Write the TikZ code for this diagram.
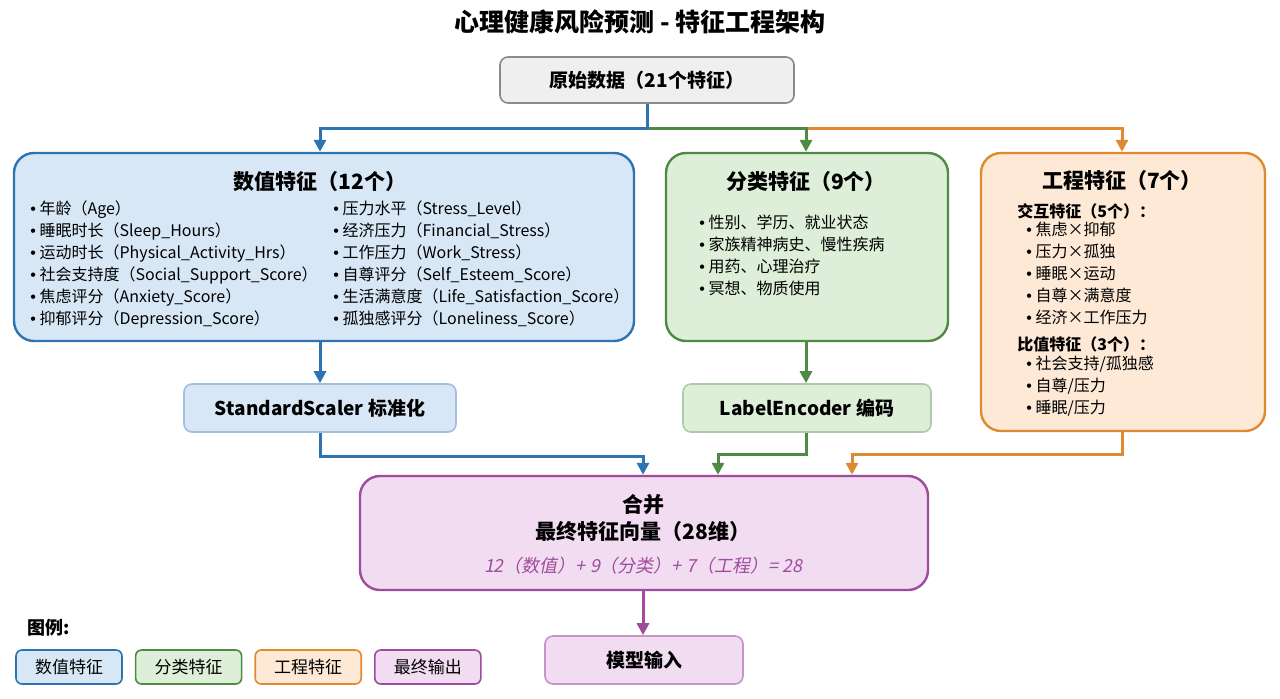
\documentclass[tikz,border=0pt]{standalone}
\usepackage{fontspec}
\setmainfont{Noto Sans CJK SC}
\newfontfamily\slfont{Noto Sans CJK SC}[FakeSlant=0.2]
\newfontfamily\blfont{Liberation Sans}
\newcommand{\bl}{{\blfont\textbullet}\ }
\usetikzlibrary{arrows.meta,positioning}
\definecolor{numfill}{HTML}{D7E7F6}
\definecolor{numline}{HTML}{2E74B0}
\definecolor{catfill}{HTML}{DDEFD8}
\definecolor{catline}{HTML}{4E8A43}
\definecolor{engfill}{HTML}{FDE9D5}
\definecolor{engline}{HTML}{DF8A30}
\definecolor{outfill}{HTML}{F1DCF1}
\definecolor{outline}{HTML}{A04C9E}
\definecolor{rawfill}{HTML}{EFEFEF}
\definecolor{rawline}{HTML}{8A8A8A}
\tikzset{
  box/.style={draw,line width=1.2pt,rounded corners=10pt},
  small/.style={draw,line width=0.8pt,rounded corners=4pt,font=\fontsize{9.5}{11}\selectfont\bfseries},
  leg/.style={draw,line width=0.8pt,rounded corners=3pt,minimum width=53pt,minimum height=17pt,font=\fontsize{8.5}{10}\selectfont},
  list/.style={align=left,anchor=north west,inner sep=0pt,font=\fontsize{8}{11}\selectfont},
  head/.style={font=\fontsize{10.5}{12}\selectfont\bfseries},
  flow/.style={line width=1.5pt,-{Triangle[length=6pt,width=6pt]}}
}
\begin{document}
\begin{tikzpicture}[x=0.5pt,y=-0.5pt]
\useasboundingbox (0,0) rectangle (1280,698);
\node[font=\fontsize{12.5}{14}\selectfont\bfseries] (title) at (640,22) {心理健康风险预测 - 特征工程架构};
\node[small,fill=rawfill,draw=rawline,minimum width=147pt,minimum height=23pt] (raw) at (647,80) {原始数据（21个特征）};

\node[box,fill=numfill,draw=numline,minimum width=310pt,minimum height=94pt] (num) at (324,247) {};
\node[box,fill=catfill,draw=catline,minimum width=141pt,minimum height=94pt] (cat) at (807,247) {};
\node[box,fill=engfill,draw=engline,minimum width=142pt,minimum height=139pt] (eng) at (1123,292) {};

\node[head] (numt) at (320,182) {数值特征（12个）};
\node[list] (numl) at (30,200) {\bl 年龄（Age）\\\bl 睡眠时长（Sleep\_Hours）\\\bl 运动时长（Physical\_Activity\_Hrs）\\\bl 社会支持度（Social\_Support\_Score）\\\bl 焦虑评分（Anxiety\_Score）\\\bl 抑郁评分（Depression\_Score）};
\node[list] (numr) at (333,200) {\bl 压力水平（Stress\_Level）\\\bl 经济压力（Financial\_Stress）\\\bl 工作压力（Work\_Stress）\\\bl 自尊评分（Self\_Esteem\_Score）\\\bl 生活满意度（Life\_Satisfaction\_Score）\\\bl 孤独感评分（Loneliness\_Score）};

\node[head] (catt) at (806,182) {分类特征（9个）};
\node[list] (catl) at (699,215) {\bl 性别、学历、就业状态\\\bl 家族精神病史、慢性疾病\\\bl 用药、心理治疗\\\bl 冥想、物质使用};

\node[head] (engt) at (1122,181) {工程特征（7个）};
\node[list,font=\fontsize{8}{11}\selectfont\bfseries] (engh1) at (1017,203) {交互特征（5个）：};
\node[list] (engl1) at (1026,222) {\bl 焦虑×抑郁\\\bl 压力×孤独\\\bl 睡眠×运动\\\bl 自尊×满意度\\\bl 经济×工作压力};
\node[list,font=\fontsize{8}{11}\selectfont\bfseries] (engh2) at (1017,336) {比值特征（3个）：};
\node[list] (engl2) at (1026,356) {\bl 社会支持/孤独感\\\bl 自尊/压力\\\bl 睡眠/压力};

\node[small,fill=numfill,draw=numline!45,minimum width=136pt,minimum height=24pt] (scale) at (320,408) {StandardScaler 标准化};
\node[small,fill=catfill,draw=catline!45,minimum width=124pt,minimum height=24pt] (enc) at (807,408) {LabelEncoder 编码};

\node[box,fill=outfill,draw=outline,minimum width=284pt,minimum height=57pt] (merge) at (644,533) {};
\node[align=center,font=\fontsize{10.5}{13.5}\selectfont\bfseries] (mergt) at (643,518) {合并\\最终特征向量（28维）};
\node[font=\fontsize{9}{10}\slfont,text=outline] (merf) at (643,566) {12（数值）+ 9（分类）+ 7（工程）= 28};

\node[small,fill=outfill,draw=outline!60,minimum width=99pt,minimum height=24pt] (model) at (644,660) {模型输入};

% arrows
\coordinate (split) at (647,128);
\draw[flow,draw=engline] (raw.south) -- (split) -| (eng.north -| 1122,0);
\draw[flow,draw=catline] (raw.south) -- (split) -| (cat.north -| 806,0);
\draw[flow,draw=numline] (raw.south) -- (split) -| (num.north -| 320,0);
\draw[flow,draw=numline] (num.south -| 320,0) -- (scale.north);
\draw[flow,draw=catline] (cat.south -| 806,0) -- (enc.north -| 806,0);
\draw[flow,draw=numline] (scale.south) |- (643,456) -- (merge.north -| 643,0);
\draw[flow,draw=catline] (enc.south -| 806,0) |- (718,454) -- (merge.north -| 718,0);
\draw[flow,draw=engline] (eng.south -| 1122,0) |- (852,454) -- (merge.north -| 852,0);
\draw[flow,draw=outline] (merge.south -| 643,0) -- (model.north -| 643,0);

% legend
\node[font=\fontsize{9}{10}\selectfont\bfseries,anchor=west] (legt) at (20,628) {图例:};
\node[leg,fill=numfill,draw=numline] (leg1) at (69,667) {数值特征};
\node[leg,fill=catfill,draw=catline,right=6pt of leg1] (leg2) {分类特征};
\node[leg,fill=engfill,draw=engline,right=6pt of leg2] (leg3) {工程特征};
\node[leg,fill=outfill,draw=outline,right=6pt of leg3] (leg4) {最终输出};
\end{tikzpicture}
\end{document}
